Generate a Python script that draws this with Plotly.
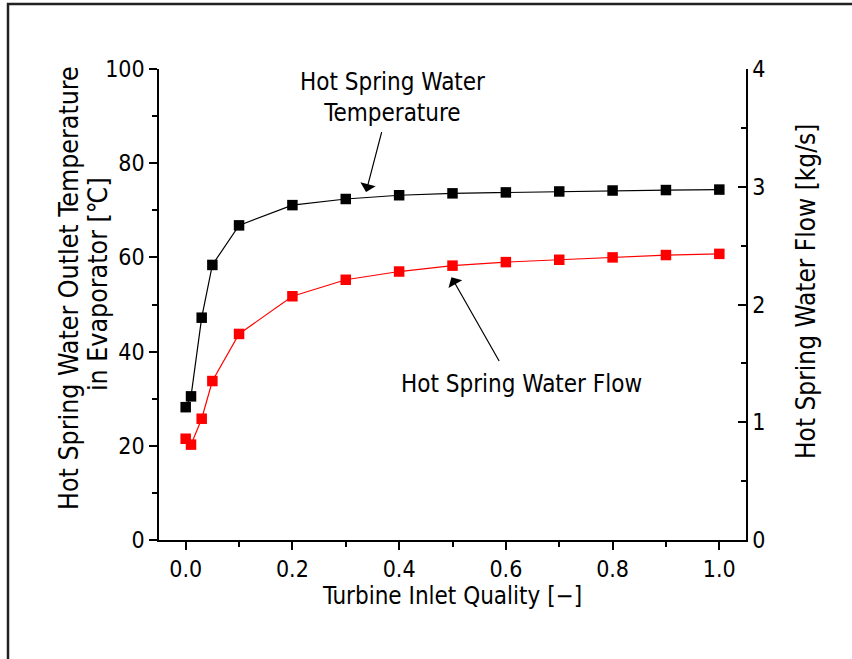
import plotly.graph_objects as go

quality = [0, 0.01, 0.03, 0.05, 0.1, 0.2, 0.3, 0.4, 0.5, 0.6, 0.7, 0.8, 0.9, 1.0]
outlet_temp = [28.2, 30.5, 47.2, 58.4, 66.8, 71.1, 72.4, 73.2, 73.6, 73.8, 74.0, 74.2, 74.3, 74.4]
water_flow = [0.86, 0.81, 1.03, 1.35, 1.75, 2.07, 2.21, 2.28, 2.33, 2.36, 2.38, 2.40, 2.42, 2.43]

x_ticks = [0.0, 0.2, 0.4, 0.6, 0.8, 1.0]
x_ticktext = ["0.0", "0.2", "0.4", "0.6", "0.8", "1.0"]

left_title_lines = ["Hot Spring Water Outlet Temperature", "in Evaporator [℃]"]
right_title = "Hot Spring Water Flow [kg/s]"
x_title = "Turbine Inlet Quality [−]"

FONT = "Liberation Sans Narrow, DejaVu Sans Condensed, Arial Narrow, sans-serif"

fig = go.Figure()
fig.add_trace(go.Scatter(
    x=quality, y=outlet_temp, mode="lines+markers",
    line=dict(color="black", width=1.2),
    marker=dict(symbol="square", size=10.5, color="black", line=dict(width=0)),
    showlegend=False, yaxis="y"))
fig.add_trace(go.Scatter(
    x=quality, y=water_flow, mode="lines+markers",
    line=dict(color="#ff0000", width=1.2),
    marker=dict(symbol="square", size=10.5, color="#ff0000", line=dict(width=0)),
    showlegend=False, yaxis="y2"))

L, R, T, B = 159, 106, 69, 119
W, H = 852, 659
pw, ph = W - L - R, H - T - B

def px(xp):
    return (xp - L) / pw

def py(yp):
    return (H - B - yp) / ph

fig.update_layout(
    width=W, height=H,
    margin=dict(l=L, r=R, t=T, b=B, autoexpand=False),
    paper_bgcolor="white", plot_bgcolor="white",
    font=dict(family=FONT, size=23, color="black"),
    xaxis=dict(
        range=[-0.05, 1.05], tickvals=x_ticks, ticktext=x_ticktext,
        ticks="outside", ticklen=8, tickwidth=1.5, tickcolor="black",
        showline=True, linecolor="black", linewidth=1.5, mirror=False,
        showgrid=False, zeroline=False,
        minor=dict(dtick=0.1, tick0=0, ticks="outside", ticklen=5, tickwidth=1.5, tickcolor="black", showgrid=False),
        title=dict(text=x_title, font=dict(size=24), standoff=4),
        automargin=False,
    ),
    yaxis=dict(
        range=[0, 100], dtick=20, tick0=0,
        ticks="outside", ticklen=8, tickwidth=1.5, tickcolor="black",
        showline=True, linecolor="black", linewidth=1.5,
        showgrid=False, zeroline=False,
        minor=dict(dtick=10, tick0=0, ticks="outside", ticklen=5, tickwidth=1.5, tickcolor="black", showgrid=False),
        automargin=False,
    ),
    yaxis2=dict(
        range=[0, 4], dtick=1, tick0=0, overlaying="y", side="right",
        ticks="inside", ticklen=8, tickwidth=1.5, tickcolor="black",
        showline=True, linecolor="black", linewidth=1.5,
        showgrid=False, zeroline=False,
        minor=dict(dtick=0.5, tick0=0, ticks="inside", ticklen=5, tickwidth=1.5, tickcolor="black", showgrid=False),
        automargin=False,
    ),
    shapes=[dict(type="rect", xref="paper", yref="paper",
                 x0=px(8), x1=px(870), y0=py(670), y1=py(4),
                 line=dict(color="#222222", width=2.5), fillcolor="rgba(0,0,0,0)", layer="above")],
    annotations=[
        dict(text=left_title_lines[0], x=px(68), y=py(288), xref="paper", yref="paper", textangle=-90,
             showarrow=False, font=dict(size=26.5), xanchor="center", yanchor="middle"),
        dict(text=left_title_lines[1], x=px(97), y=py(284), xref="paper", yref="paper", textangle=-90,
             showarrow=False, font=dict(size=26.5), xanchor="center", yanchor="middle"),
        dict(text=right_title, x=px(806), y=py(292), xref="paper", yref="paper", textangle=-90,
             showarrow=False, font=dict(size=26), xanchor="center", yanchor="middle"),
        dict(text="Hot Spring Water<br>Temperature", x=px(392), y=py(97), xref="paper", yref="paper",
             showarrow=False, font=dict(size=24), align="center", xanchor="center", yanchor="middle"),
        dict(text="Hot Spring Water Flow", x=px(521), y=py(384), xref="paper", yref="paper",
             showarrow=False, font=dict(size=24), xanchor="center", yanchor="middle"),
        dict(text="", x=0.338, y=73.9, xref="x", yref="y", ax=0.368, ay=86.9, axref="x", ayref="y",
             showarrow=True, arrowhead=1, arrowsize=2.2, arrowwidth=1.2, arrowcolor="black"),
        dict(text="", x=0.498, y=55.8, xref="x", yref="y", ax=0.589, ay=37.7, axref="x", ayref="y",
             showarrow=True, arrowhead=1, arrowsize=2.2, arrowwidth=1.2, arrowcolor="black"),
    ],
)

fig.write_html("out.html")
